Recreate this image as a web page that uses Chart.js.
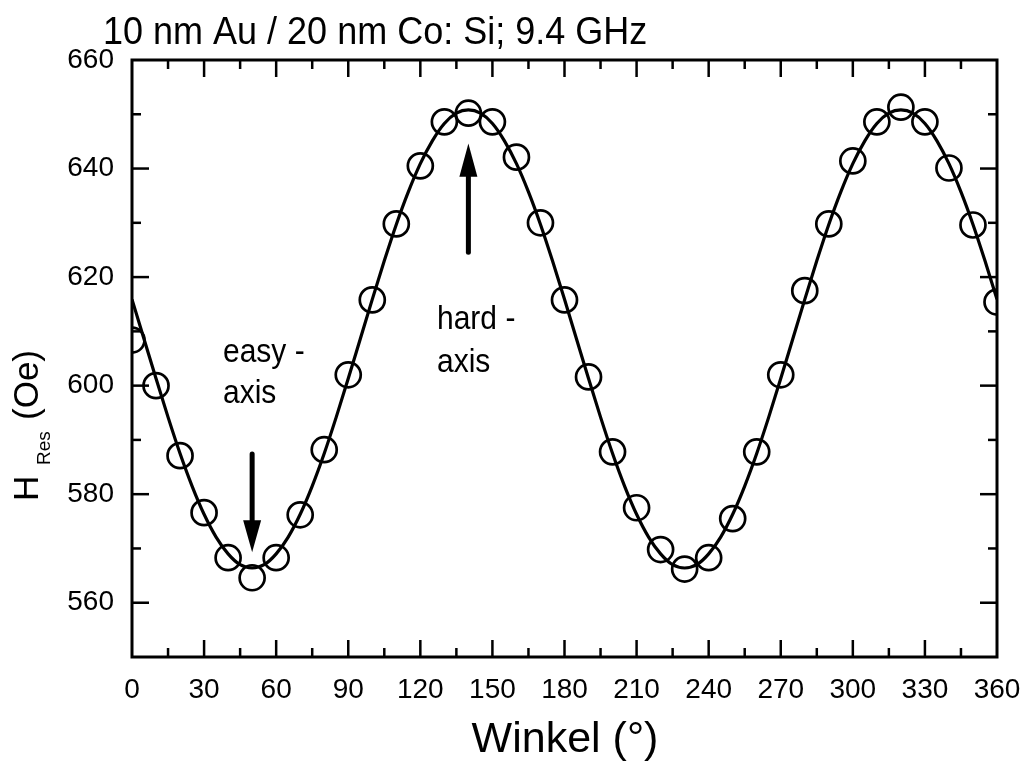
<!DOCTYPE html>
<html>
<head>
<meta charset="utf-8">
<title>HRes vs Winkel</title>
<script src="https://cdn.jsdelivr.net/npm/chart.js@4.4.1/dist/chart.umd.min.js"></script>
<style>
    html, body { margin: 0; padding: 0; background: #fff; }
    #wrap { width: 1024px; height: 763px; position: relative; }
</style>
</head>
<body>
<div id="wrap"><canvas id="chart" width="1024" height="763"></canvas></div>
<script>
    // Messpunkte (Winkel in Grad, Resonanzfeld in Oe)
    var angles = [0, 10, 20, 30, 40, 50, 60, 70, 80, 90, 100, 110, 120, 130, 140, 150, 160, 170, 180,
                  190, 200, 210, 220, 230, 240, 250, 260, 270, 280, 290, 300, 310, 320, 330, 340, 350, 360];
    var hRes   = [608.4, 600.0, 587.1, 576.6, 568.3, 564.6, 568.3, 576.2, 588.2, 602.0, 615.8, 629.8, 640.5,
                  648.6, 650.2, 648.6, 642.1, 630.0, 615.8, 601.6, 587.8, 577.5, 569.8, 566.2, 568.3, 575.5,
                  587.8, 602.0, 617.5, 629.8, 641.4, 648.6, 651.3, 648.6, 640.1, 629.6, 615.4];

    var fitAngles = [0, 5, 10, 15, 20, 25, 30, 35, 40, 45, 50, 55, 60, 65, 70, 75, 80, 85, 90, 95, 100,
                     105, 110, 115, 120, 125, 130, 135, 140, 145, 150, 155, 160, 165, 170, 175, 180,
                     185, 190, 195, 200, 205, 210, 215, 220, 225, 230, 235, 240, 245, 250, 255, 260,
                     265, 270, 275, 280, 285, 290, 295, 300, 305, 310, 315, 320, 325, 330, 335, 340,
                     345, 350, 355, 360];
    var fitValues = [615.9, 608.6, 601.3, 594.2, 587.5, 581.5, 576.3, 572.1, 569.0, 567.0, 566.4, 567.0,
                     569.0, 572.1, 576.3, 581.5, 587.5, 594.2, 601.3, 608.6, 615.9, 623.0, 629.7, 635.7,
                     640.9, 645.1, 648.3, 650.2, 650.8, 650.2, 648.3, 645.1, 640.9, 635.7, 629.7, 623.0,
                     615.9, 608.6, 601.3, 594.2, 587.5, 581.5, 576.3, 572.1, 569.0, 567.0, 566.4, 567.0,
                     569.0, 572.1, 576.3, 581.5, 587.5, 594.2, 601.3, 608.6, 615.9, 623.0, 629.7, 635.7,
                     640.9, 645.1, 648.3, 650.2, 650.8, 650.2, 648.3, 645.1, 640.9, 635.7, 629.7, 623.0,
                     615.9];

    var xTicks = [0, 30, 60, 90, 120, 150, 180, 210, 240, 270, 300, 330, 360];
    var yTicks = [560, 580, 600, 620, 640, 660];

    var FONT = "'Liberation Sans', Arial, Helvetica, sans-serif";

    function line(ctx, x1, y1, x2, y2) {
        ctx.beginPath();
        ctx.moveTo(x1, y1);
        ctx.lineTo(x2, y2);
        ctx.stroke();
    }

    // Pfeil bei x, Schaft von yFrom bis yBase, Spitze bei yTo (Datenkoordinaten)
    function arrow(chart, x, yFrom, yBase, yTo) {
        var ctx = chart.ctx, xs = chart.scales.x, ys = chart.scales.y;
        var px = xs.getPixelForValue(x);
        var p0 = ys.getPixelForValue(yFrom), pb = ys.getPixelForValue(yBase), pt = ys.getPixelForValue(yTo);
        ctx.lineWidth = 5;
        ctx.lineCap = "round";
        line(ctx, px, p0, px, pb);
        ctx.lineCap = "butt";
        ctx.beginPath();
        ctx.moveTo(px - 9, pb);
        ctx.lineTo(px + 9, pb);
        ctx.lineTo(px, pt);
        ctx.closePath();
        ctx.fill();
    }

    // Text leicht in die Höhe gezogen, wie im Original
    function tallText(ctx, txt, x, y, sy) {
        ctx.save();
        ctx.translate(x, y);
        ctx.scale(1, sy);
        ctx.fillText(txt, 0, 0);
        ctx.restore();
    }

    var decor = {
        id: "decor",
        afterDraw: function (chart) {
            var ctx = chart.ctx, a = chart.chartArea, xs = chart.scales.x, ys = chart.scales.y;
            ctx.save();
            ctx.strokeStyle = "#000";
            ctx.fillStyle = "#000";

            // Ticks nach innen, auf allen vier Seiten
            ctx.lineWidth = 2.5;
            xs.ticks.forEach(function (t) {
                var v = t.value;
                if (v <= 0 || v >= 360) return;
                var px = xs.getPixelForValue(v);
                var len = xTicks.indexOf(v) >= 0 ? 17 : 9;
                line(ctx, px, a.bottom, px, a.bottom - len);
                line(ctx, px, a.top, px, a.top + len);
            });
            ys.ticks.forEach(function (t) {
                var v = t.value;
                if (v <= 550 || v >= 660) return;
                var py = ys.getPixelForValue(v);
                var len = yTicks.indexOf(v) >= 0 ? 17 : 9;
                line(ctx, a.left, py, a.left + len, py);
                line(ctx, a.right, py, a.right - len, py);
            });

            // Rahmen
            ctx.lineWidth = 3;
            ctx.strokeRect(a.left, a.top, a.right - a.left, a.bottom - a.top);

            // Pfeile
            arrow(chart, 50, 587.4, 575.2, 569.3);
            arrow(chart, 140, 624.6, 638.5, 644.6);

            // Texte
            ctx.textBaseline = "alphabetic";
            ctx.textAlign = "left";
            ctx.font = "36px " + FONT;
            tallText(ctx, "10 nm Au / 20 nm Co: Si; 9.4 GHz", 103, 44, 1.08);

            ctx.font = "30px " + FONT;
            tallText(ctx, "easy -", 223, 362, 1.08);
            tallText(ctx, "axis", 223, 403, 1.08);
            tallText(ctx, "hard -", 437, 329, 1.08);
            tallText(ctx, "axis", 437, 372, 1.08);

            ctx.textAlign = "center";
            ctx.font = "43px " + FONT;
            ctx.fillText("Winkel (\u00b0)", 565, 752);

            // y-Achsentitel mit Index
            ctx.save();
            ctx.translate(38, 501);
            ctx.rotate(-Math.PI / 2);
            ctx.textAlign = "left";
            ctx.font = "35px " + FONT;
            ctx.fillText("H", 0, 0);
            ctx.font = "19px " + FONT;
            ctx.fillText("Res", 36, 12);
            ctx.font = "35px " + FONT;
            ctx.fillText("(Oe)", 81, 0);
            ctx.restore();

            ctx.restore();
        }
    };

    new Chart(document.getElementById("chart").getContext("2d"), {
        type: "scatter",
        data: {
            datasets: [{
                label: "Fit",
                type: "line",
                data: fitAngles.map(function (x, i) { return { x: x, y: fitValues[i] }; }),
                borderColor: "#000",
                borderWidth: 3.2,
                pointRadius: 0,
                fill: false,
                cubicInterpolationMode: "monotone",
                clip: 0,
                order: 2
            }, {
                label: "Messung",
                data: angles.map(function (x, i) { return { x: x, y: hRes[i] }; }),
                pointStyle: "circle",
                pointRadius: 12.5,
                pointBorderWidth: 2.7,
                pointBackgroundColor: "rgba(0,0,0,0)",
                pointBorderColor: "#000",
                clip: 0,
                order: 1
            }]
        },
        options: {
            responsive: false,
            animation: false,
            layout: { padding: { left: 0, right: 27, top: 60, bottom: 0 } },
            plugins: {
                legend: { display: false },
                tooltip: { enabled: false }
            },
            scales: {
                x: {
                    type: "linear",
                    min: 0,
                    max: 360,
                    border: { display: false },
                    grid: { display: false, drawTicks: false },
                    ticks: {
                        stepSize: 15,
                        autoSkip: false,
                        maxRotation: 0,
                        padding: 16,
                        color: "#000",
                        font: { family: FONT, size: 28 },
                        callback: function (v) { return xTicks.indexOf(v) >= 0 ? String(v) : ""; }
                    },
                    afterFit: function (s) {
                        s.height = 763 - 657;
                        s.paddingLeft = 0;
                        s.paddingRight = 0;
                    }
                },
                y: {
                    type: "linear",
                    min: 550,
                    max: 660,
                    border: { display: false },
                    grid: { display: false, drawTicks: false },
                    ticks: {
                        stepSize: 10,
                        autoSkip: false,
                        padding: 18,
                        color: "#000",
                        font: { family: FONT, size: 28 },
                        callback: function (v) { return yTicks.indexOf(v) >= 0 ? String(v) : ""; }
                    },
                    afterFit: function (s) {
                        s.width = 132;
                        s.paddingTop = 0;
                        s.paddingBottom = 0;
                    }
                }
            }
        },
        plugins: [decor]
    });
</script>
</body>
</html>
